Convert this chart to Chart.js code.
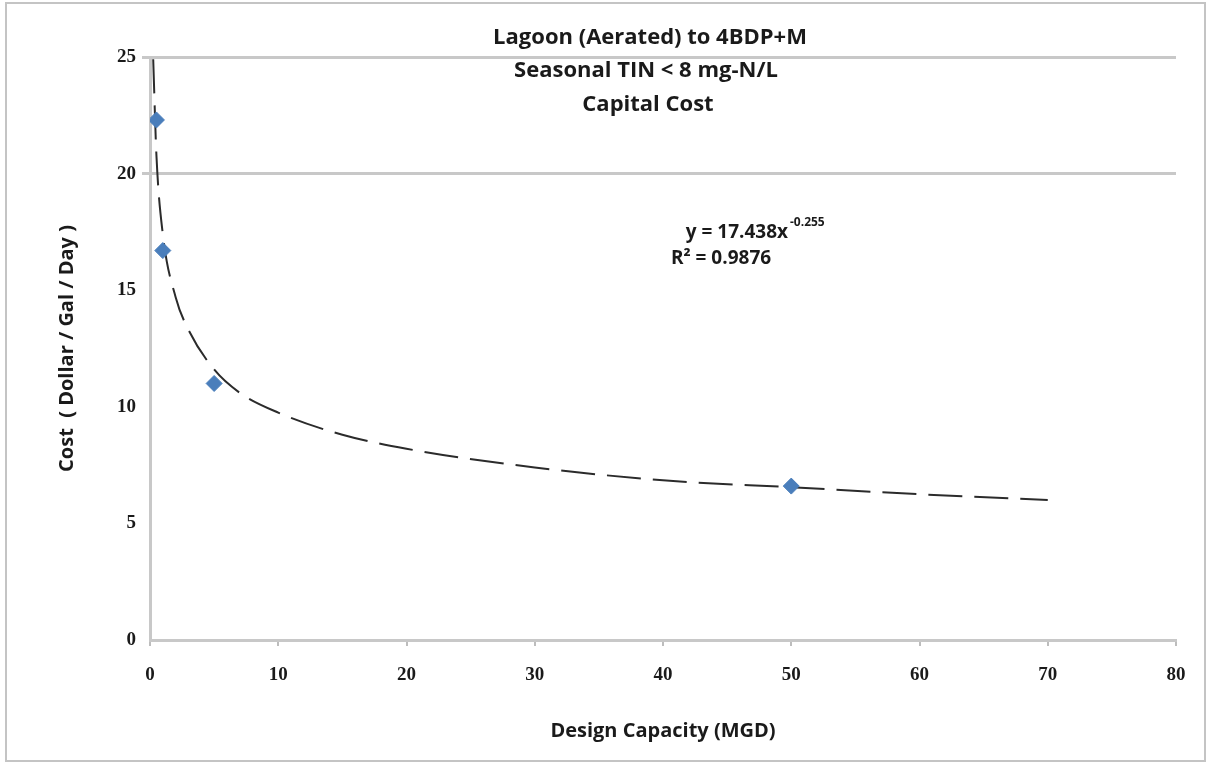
<!DOCTYPE html>
<html>
<head>
<meta charset="utf-8">
<script src="https://cdn.jsdelivr.net/npm/chart.js@4.4.1/dist/chart.umd.min.js"></script>
<style>
  html, body { margin: 0; padding: 0; background: #fff; }
  #wrap { position: relative; width: 1211px; height: 767px; }
  #frame { position: absolute; left: 5px; top: 2px; width: 1201px; height: 760px; border: 2px solid #c4c4c4; box-sizing: border-box; }
</style>
</head>
<body>
<div id="wrap">
  <div id="frame"></div>
  <canvas id="costChart" width="1211" height="767"></canvas>
</div>
<script>
// measured points: design capacity (MGD) vs capital cost ($/gal/day)
var capacity = [0.5, 1, 5, 50];
var cost = [22.3, 16.7, 11.0, 6.6];

// power trendline
var trendX = [0.25, 0.5, 1, 2, 3, 5, 7, 10, 15, 20, 30, 40, 50, 60, 70];
var trendY = [24.9, 20.8, 17.4, 14.7, 13.3, 11.6, 10.6, 9.75, 8.8, 8.2, 7.4, 6.85, 6.55, 6.25, 6.0];

var titleLines = ["Lagoon (Aerated) to 4BDP+M", "Seasonal TIN < 8 mg-N/L", "Capital Cost"];
var yTicks = [0, 5, 10, 15, 20, 25];
var xTicks = [0, 10, 20, 30, 40, 50, 60, 70, 80];

function toPoints(xs, ys) {
    var pts = [];
    for (var i = 0; i < xs.length; i++) {
        pts.push({ x: xs[i], y: ys[i] });
    }
    return pts;
}

var textPlugin = {
    id: 'excelText',
    afterDraw: function(chart) {
        var ctx = chart.ctx;
        ctx.save();
        ctx.fillStyle = '#1a1a1a';
        ctx.textAlign = 'center';
        ctx.textBaseline = 'middle';
        ctx.font = 'bold 22px "Open Sans"';
        ctx.fillText(titleLines[0], 650, 38);
        ctx.fillText(titleLines[1], 646, 71);
        ctx.fillText(titleLines[2], 648, 105);

        // equation label
        ctx.font = 'bold 19px "Open Sans"';
        ctx.textAlign = 'right';
        ctx.fillText('y = 17.438x', 788, 233);
        ctx.textAlign = 'left';
        ctx.font = 'bold 12px "Open Sans"';
        ctx.fillText('-0.255', 790, 223);
        ctx.textAlign = 'center';
        ctx.font = 'bold 19px "Open Sans"';
        ctx.fillText('R\u00B2 = 0.9876', 721, 259);
        ctx.restore();
    }
};

var ctx = document.getElementById('costChart').getContext('2d');

new Chart(ctx, {
    type: 'scatter',
    data: {
        datasets: [
            {
                label: 'Capital Cost',
                data: toPoints(capacity, cost),
                pointStyle: 'rectRot',
                pointRadius: 8,
                backgroundColor: '#4a7ebb',
                borderColor: '#4a7ebb',
                order: 0
            },
            {
                label: 'Power trend',
                data: toPoints(trendX, trendY),
                showLine: true,
                pointRadius: 0,
                borderColor: '#2b2b2b',
                borderWidth: 2,
                borderDash: [34, 12],
                cubicInterpolationMode: 'monotone',
                order: 1
            }
        ]
    },
    options: {
        responsive: false,
        animation: false,
        layout: { padding: { left: 55, right: 35, top: 57, bottom: 20 } },
        plugins: {
            legend: { display: false },
            tooltip: { enabled: false }
        },
        scales: {
            x: {
                type: 'linear',
                min: 0,
                max: 80,
                afterBuildTicks: function(scale) {
                    scale.ticks = xTicks.map(function(v) { return { value: v }; });
                },
                afterFit: function(scale) { scale.height = 107; },
                grid: {
                    drawOnChartArea: false,
                    drawTicks: true,
                    tickLength: 6,
                    color: '#bdbdbd',
                    lineWidth: 2
                },
                border: { color: '#c8c8c8', width: 3 },
                ticks: {
                    padding: 18,
                    color: '#1a1a1a',
                    font: { family: 'Liberation Serif', size: 19, weight: 'bold' }
                },
                title: {
                    display: true,
                    text: 'Design Capacity (MGD)',
                    color: '#1a1a1a',
                    font: { family: 'Open Sans', size: 20, weight: 'bold' }
                }
            },
            y: {
                type: 'linear',
                min: 0,
                max: 25,
                afterBuildTicks: function(scale) {
                    scale.ticks = yTicks.map(function(v) { return { value: v }; });
                },
                afterFit: function(scale) { scale.width = 95; },
                grid: {
                    drawTicks: true,
                    tickLength: 8,
                    lineWidth: 3,
                    color: function(c) {
                        return (c.tick && c.tick.value >= 20) ? '#c8c8c8' : 'rgba(0,0,0,0)';
                    }
                },
                border: { color: '#c8c8c8', width: 3 },
                ticks: {
                    padding: 6,
                    color: '#1a1a1a',
                    font: { family: 'Liberation Serif', size: 19, weight: 'bold' }
                },
                title: {
                    display: true,
                    text: 'Cost  ( Dollar / Gal / Day )',
                    color: '#1a1a1a',
                    font: { family: 'Open Sans', size: 20, weight: 'bold' },
                    padding: { top: 0, bottom: 4 }
                }
            }
        }
    },
    plugins: [textPlugin]
});
</script>
</body>
</html>
